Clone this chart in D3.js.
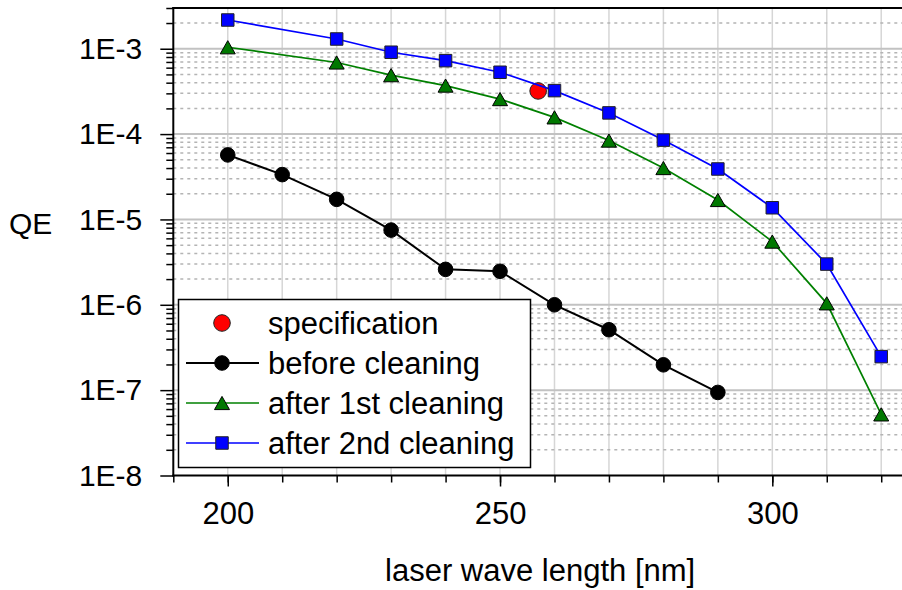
<!DOCTYPE html>
<html lang="en">
<head>
  <meta charset="UTF-8">
  <title>QE vs laser wave length</title>
  <script src="https://d3js.org/d3.v7.min.js"></script>
  <style>
    body {
      margin: 0;
      background: #fff;
      font-family: "Liberation Sans", Arial, sans-serif;
    }
    svg text {
      fill: #000;
    }
  </style>
</head>
<body>
  <svg id="chart" width="902" height="590"></svg>

  <script>
    // values
    const waveBefore = [200, 210, 220, 230, 240, 250, 260, 270, 280, 290];
    const qeBefore = [5.7e-5, 3.35e-5, 1.72e-5, 7.5e-6, 2.6e-6, 2.47e-6, 1.0e-6, 5.1e-7, 1.98e-7, 9.4e-8];

    const waveAfter = [200, 220, 230, 240, 250, 260, 270, 280, 290, 300, 310, 320];
    const qeAfter1 = [1.04e-3, 6.9e-4, 4.9e-4, 3.7e-4, 2.57e-4, 1.57e-4, 8.4e-5, 4.0e-5, 1.69e-5, 5.5e-6, 1.04e-6, 5.2e-8];
    const qeAfter2 = [2.17e-3, 1.30e-3, 9.1e-4, 7.25e-4, 5.3e-4, 3.23e-4, 1.77e-4, 8.5e-5, 3.9e-5, 1.37e-5, 3.0e-6, 2.47e-7];

    const specWave = [257];
    const specQE = [3.2e-4];

    const legendLabels = ["specification", "before cleaning", "after 1st cleaning", "after 2nd cleaning"];
    const xMajorTicks = [200, 250, 300];
    const yDecades = [1e-8, 1e-7, 1e-6, 1e-5, 1e-4, 1e-3];

    const svg = d3.select("#chart");

    const plotLeft = 173.3, plotRight = 903, plotTop = 8, plotBottom = 475.5;

    const x = d3.scaleLinear().domain([190, 324]).range([plotLeft, plotRight]);
    const y = d3.scaleLog().domain([1e-8, 3e-3]).range([plotBottom, plotTop]);

    const xMinor = d3.range(190, 321, 10);
    const yMinor = [];
    yDecades.forEach(d => {
      for (let k = 2; k <= 9; k++) {
        if (d * k <= 3e-3 + 1e-12) yMinor.push(d * k);
      }
    });

    // grid
    const grid = svg.append("g");
    grid.selectAll(".vgrid")
      .data(xMinor.filter(v => v > 190))
      .enter().append("line")
      .attr("x1", d => x(d)).attr("x2", d => x(d))
      .attr("y1", plotTop).attr("y2", plotBottom)
      .attr("stroke", "#d6d6d6").attr("stroke-width", 1.5);

    grid.selectAll(".mgrid")
      .data(yMinor.filter(v => v < 2.9e-3))
      .enter().append("line")
      .attr("x1", plotLeft).attr("x2", plotRight)
      .attr("y1", d => y(d)).attr("y2", d => y(d))
      .attr("stroke", "#b4b4b4").attr("stroke-width", 1.5)
      .attr("stroke-dasharray", "3,4");

    grid.selectAll(".hgrid")
      .data(yDecades.filter(v => v > 1e-8))
      .enter().append("line")
      .attr("x1", plotLeft).attr("x2", plotRight)
      .attr("y1", d => y(d)).attr("y2", d => y(d))
      .attr("stroke", "#c2c2c2").attr("stroke-width", 2);

    // axes
    const yMinorAxis = svg.append("g")
      .attr("transform", `translate(${plotLeft},0)`)
      .call(d3.axisLeft(y).tickValues(yMinor).tickSize(7).tickFormat(""));
    const yMajorAxis = svg.append("g")
      .attr("transform", `translate(${plotLeft},0)`)
      .call(d3.axisLeft(y).tickValues(yDecades).tickSize(13).tickPadding(18)
        .tickFormat(d => "1E" + Math.round(Math.log10(d))));

    const xMinorAxis = svg.append("g")
      .attr("transform", `translate(0,${plotBottom})`)
      .call(d3.axisBottom(x).tickValues(xMinor).tickSize(7).tickFormat(""));
    const xMajorAxis = svg.append("g")
      .attr("transform", `translate(0,${plotBottom})`)
      .call(d3.axisBottom(x).tickValues(xMajorTicks).tickSize(11).tickPadding(15.5));

    [yMinorAxis, yMajorAxis, xMinorAxis, xMajorAxis].forEach(a => {
      a.select(".domain").remove();
      a.selectAll(".tick line").attr("stroke", "#000").attr("stroke-width", 1.5);
      a.selectAll("text")
        .attr("font-family", "'Liberation Sans', Arial, sans-serif")
        .attr("fill", "#000");
    });
    yMajorAxis.selectAll("text").attr("font-size", "30px");
    xMajorAxis.selectAll("text").attr("font-size", "31px");

    // frame: left, bottom, top
    svg.append("line").attr("x1", plotLeft).attr("x2", plotLeft).attr("y1", plotTop - 1).attr("y2", plotBottom + 1)
      .attr("stroke", "#000").attr("stroke-width", 2);
    svg.append("line").attr("x1", plotLeft - 1).attr("x2", plotRight).attr("y1", plotBottom).attr("y2", plotBottom)
      .attr("stroke", "#000").attr("stroke-width", 2);
    svg.append("line").attr("x1", plotLeft - 1).attr("x2", plotRight).attr("y1", plotTop).attr("y2", plotTop)
      .attr("stroke", "#000").attr("stroke-width", 2);

    // axis titles
    svg.append("text")
      .attr("x", 9).attr("y", 234)
      .attr("font-size", "30px")
      .text("QE");

    svg.append("text")
      .attr("x", (plotLeft + plotRight) / 2 + 2).attr("y", 581)
      .attr("text-anchor", "middle")
      .attr("font-size", "31px")
      .text("laser wave length [nm]");

    // markers
    const triUp = {
      draw(ctx, w) {
        const h = w * 0.88;
        ctx.moveTo(0, -h / 2);
        ctx.lineTo(w / 2, h / 2);
        ctx.lineTo(-w / 2, h / 2);
        ctx.closePath();
      }
    };

    const series = [
      { name: legendLabels[0], xs: specWave, ys: specQE, color: "#ff0000", line: false,
        symbol: d3.symbol().type(d3.symbolCircle).size(Math.PI * 8.3 * 8.3), fill: "#ff0000", stroke: "#222" },
      { name: legendLabels[1], xs: waveBefore, ys: qeBefore, color: "#000", line: true,
        symbol: d3.symbol().type(d3.symbolCircle).size(Math.PI * 7.3 * 7.3), fill: "#000", stroke: "#000" },
      { name: legendLabels[2], xs: waveAfter, ys: qeAfter1, color: "#008000", line: true,
        symbol: d3.symbol().type(triUp).size(15), fill: "#007800", stroke: "#000" },
      { name: legendLabels[3], xs: waveAfter, ys: qeAfter2, color: "#0000ff", line: true,
        symbol: d3.symbol().type(d3.symbolSquare).size(12.5 * 12.5), fill: "#0000ff", stroke: "#222" }
    ];

    const lineGen = d3.line().x(d => x(d[0])).y(d => y(d[1]));

    series.forEach(s => {
      const pts = s.xs.map((v, i) => [v, s.ys[i]]);
      const g = svg.append("g");
      if (s.line) {
        g.append("path")
          .datum(pts)
          .attr("d", lineGen)
          .attr("fill", "none")
          .attr("stroke", s.color)
          .attr("stroke-width", s.color === "#000" ? 2 : 1.7);
      }
      g.selectAll("path.mark")
        .data(pts)
        .enter().append("path")
        .attr("class", "mark")
        .attr("transform", d => `translate(${x(d[0])},${y(d[1])})`)
        .attr("d", s.symbol)
        .attr("fill", s.fill)
        .attr("stroke", s.stroke)
        .attr("stroke-width", 1);
    });

    // legend
    const legend = svg.append("g");
    legend.append("rect")
      .attr("x", 178.5).attr("y", 299.5)
      .attr("width", 352).attr("height", 168)
      .attr("fill", "#fff")
      .attr("stroke", "#000").attr("stroke-width", 1.5);

    series.forEach((s, i) => {
      const cy = 323 + i * 40;
      if (s.line) {
        legend.append("line")
          .attr("x1", 186).attr("x2", 259)
          .attr("y1", cy).attr("y2", cy)
          .attr("stroke", s.color)
          .attr("stroke-width", s.color === "#000" ? 2 : 1.7);
      }
      legend.append("path")
        .attr("transform", `translate(222,${cy})`)
        .attr("d", s.symbol)
        .attr("fill", s.fill)
        .attr("stroke", s.stroke)
        .attr("stroke-width", 1);
      legend.append("text")
        .attr("x", 268).attr("y", cy)
        .attr("dy", "0.35em")
        .attr("font-size", "31px")
        .text(s.name);
    });
  </script>
</body>
</html>
